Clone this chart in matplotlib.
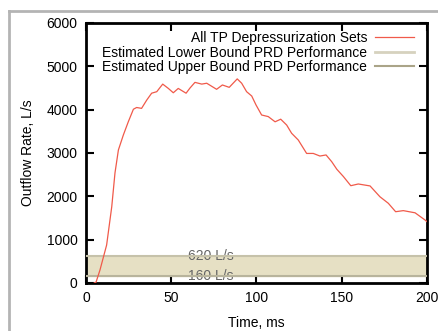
import matplotlib
matplotlib.use("Agg")
import matplotlib.pyplot as plt
from matplotlib.lines import Line2D

plt.rcParams['font.family'] = ['Liberation Sans', 'DejaVu Sans']

# Data
time_ms = [4.8, 5.9, 8.2, 12.1, 15.1, 17.0, 19.0, 21.9, 24.8, 27.8, 29.7, 32.6,
           35.6, 38.5, 41.5, 45.0, 48.3, 51.2, 54.1, 58.7, 61.0, 63.9, 67.9,
           70.8, 76.6, 80.0, 84.0, 88.7, 91.3, 94.2, 97.2, 99.7, 103.0, 106.9,
           110.9, 114.2, 117.7, 120.6, 124.5, 129.4, 133.3, 137.2, 140.8,
           144.1, 147.1, 151.0, 155.3, 159.7, 166.6, 172.4, 177.3, 181.6,
           186.1, 193.0, 198.8, 200.0]
outflow = [0, 20, 300, 877, 1760, 2540, 3070, 3415, 3720, 4010, 4050, 4030,
           4220, 4380, 4415, 4590, 4490, 4390, 4490, 4380, 4500, 4630, 4590,
           4610, 4470, 4570, 4515, 4710, 4610, 4415, 4315, 4110, 3877, 3840,
           3720, 3780, 3645, 3455, 3300, 2990, 2990, 2930, 2955,
           2800, 2625, 2455, 2245, 2285, 2240, 1990, 1840, 1645,
           1670, 1620, 1455, 1415]
lower_bound = 160
upper_bound = 620

fig = plt.figure(figsize=(4.39, 3.31), dpi=100)
ax = fig.add_axes([86 / 439, 1 - 283 / 331, 341 / 439, 260 / 331])

ax.axhspan(lower_bound, upper_bound, color='#e6e0c4', zorder=1)
ax.axhline(upper_bound, color='#c6c2aa', lw=1.5, zorder=3)
ax.axhline(lower_bound, color='#b8b49c', lw=1.5, zorder=3)
ax.text(73, upper_bound, '620 L/s', ha='center', va='center', fontsize=10,
        color='#666666', zorder=2)
ax.text(73, lower_bound, '160 L/s', ha='center', va='center', fontsize=10,
        color='#666666', zorder=2)

ax.plot(time_ms, outflow, color='#f05a4a', lw=0.9, zorder=4)

handles = [Line2D([], [], color='#f05a4a', lw=0.9),
           Line2D([], [], color='#d6d2be', lw=2),
           Line2D([], [], color='#aaa488', lw=1.5)]
labels = ['All TP Depressurization Sets',
          'Estimated Lower Bound PRD Performance',
          'Estimated Upper Bound PRD Performance']
ax.legend(handles, labels, loc='upper right', frameon=False, fontsize=10,
          markerfirst=False, handlelength=2.75, handletextpad=0.6,
          labelspacing=0.02, borderaxespad=0.2, bbox_to_anchor=(0.985, 1.0))

ax.set_xlim(0, 200)
ax.set_ylim(0, 6000)
ax.set_xticks([0, 50, 100, 150, 200])
ax.set_yticks(range(0, 6001, 1000))
ax.tick_params(direction='in', length=6, width=1.5, top=True, right=True,
               labelsize=10, pad=6, color='black')
for s in ax.spines.values():
    s.set_linewidth(2)
ax.set_xlabel('Time, ms', fontsize=10, labelpad=8)
ax.set_ylabel('Outflow Rate, L/s', fontsize=10, labelpad=8)

# gray outer frame
fig.add_artist(Line2D([9.5 / 439, 9.5 / 439], [0, 1 - 11 / 331],
                      transform=fig.transFigure, color='#b4b4b4', lw=2))
fig.add_artist(Line2D([8.5 / 439, 1], [1 - 11 / 331, 1 - 11 / 331],
                      transform=fig.transFigure, color='#b4b4b4', lw=2))

fig.savefig('out.png', dpi=100)
